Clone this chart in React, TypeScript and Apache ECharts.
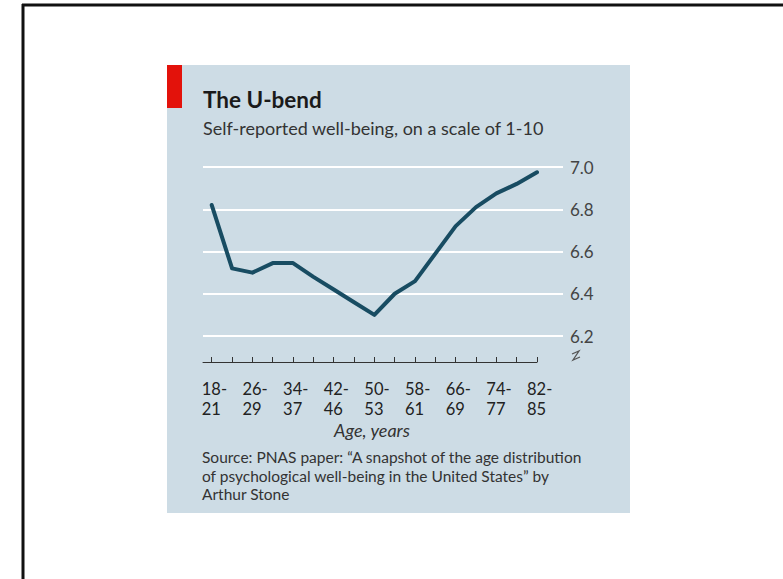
import React, { useEffect, useRef } from "react";
import * as echarts from "echarts";

const ageGroups = [
  "18-21", "22-25", "26-29", "30-33", "34-37", "38-41", "42-46", "47-49",
  "50-53", "54-57", "58-61", "62-65", "66-69", "70-73", "74-77", "78-81", "82-85",
];
const wellBeing = [
  6.82, 6.52, 6.5, 6.545, 6.545, 6.48, 6.42, 6.36, 6.3, 6.4, 6.46, 6.59, 6.72,
  6.81, 6.875, 6.92, 6.975,
];
const yTicks = [6.2, 6.4, 6.6, 6.8, 7.0];
const labelledIdx = [0, 2, 4, 6, 8, 10, 12, 14, 16];

const title = "The U-bend";
const subtitle = "Self-reported well-being, on a scale of 1-10";
const xName = "Age, years";
const source =
  "Source: PNAS paper: \u201CA snapshot of the age distribution\nof psychological well-being in the United States\u201D by\nArthur Stone";

const FONT = "Lato, 'Noto Sans', sans-serif";

export default function App() {
  const ref = useRef<HTMLDivElement>(null);
  useEffect(() => {
    document.body.style.margin = "0";
    const chart = echarts.init(ref.current!, null, { renderer: "svg" });
    const yMin = yTicks[0];
    const yMax = yTicks[yTicks.length - 1];
    const xMin = -0.43;
    const xMax = ageGroups.length - 1;
    const labelRich = {
      a: { width: 20, align: "left", fontSize: 16.5, color: "#222", fontFamily: FONT },
    };
    chart.setOption({
      animation: false,
      backgroundColor: "#ffffff",
      textStyle: { fontFamily: FONT },
      graphic: [
        { type: "rect", shape: { x: 167, y: 65, width: 463, height: 448 }, style: { fill: "#cddce5" }, z: -10 },
        { type: "rect", shape: { x: 167, y: 65, width: 15, height: 43 }, style: { fill: "#e3120b" }, z: -5 },
        { type: "line", shape: { x1: 22, y1: 5, x2: 783, y2: 5 }, style: { stroke: "#111", lineWidth: 3 } },
        { type: "line", shape: { x1: 23, y1: 4, x2: 23, y2: 579 }, style: { stroke: "#111", lineWidth: 3 } },
        {
          type: "text", x: 203, y: 88,
          style: { text: title, fontFamily: FONT, fontWeight: "bold", fontSize: 22.5, fill: "#1a1a1a", verticalAlign: "top" },
        },
        {
          type: "text", x: 203, y: 119,
          style: { text: subtitle, fontFamily: FONT, fontSize: 18, fill: "#333", verticalAlign: "top" },
        },
        {
          type: "text", x: 372, y: 421,
          style: { text: xName, fontFamily: FONT, fontStyle: "italic", fontSize: 18, fill: "#333", align: "center", verticalAlign: "top" },
        },
        {
          type: "text", x: 202, y: 448,
          style: { text: source, fontFamily: FONT, fontSize: 15.5, lineHeight: 18.5, fill: "#333", verticalAlign: "top" },
        },
        {
          type: "polyline",
          shape: { points: [[572, 354], [579, 351], [573, 360], [580, 357]] },
          style: { stroke: "#555", lineWidth: 1.3, fill: null },
        },
      ],
      grid: [
        { left: 203, top: 167, width: 360, height: 169 },
        { left: 203, top: 167, width: 334, height: 169 },
      ],
      xAxis: [
        { gridIndex: 0, type: "value", min: 0, max: 1, show: false },
        {
          gridIndex: 1,
          type: "value",
          position: "bottom",
          min: xMin,
          max: xMax,
          offset: 26,
          splitLine: { show: false },
          axisLine: { show: true, lineStyle: { color: "#333", width: 1 } },
          axisTick: {
            show: true,
            inside: true,
            length: 5,
            customValues: ageGroups.map((_, i) => i),
            lineStyle: { color: "#333", width: 1 },
          },
          axisLabel: {
            show: true,
            customValues: labelledIdx,
            margin: 18,
            align: "center",
            formatter: (v: number) => `{a|${ageGroups[Math.round(v)].split("-")[0]}-}`,
            rich: labelRich,
          },
        },
        {
          gridIndex: 1,
          type: "value",
          position: "bottom",
          min: xMin,
          max: xMax,
          offset: 26,
          splitLine: { show: false },
          axisLine: { show: false },
          axisTick: { show: false },
          axisLabel: {
            show: true,
            customValues: labelledIdx,
            margin: 38,
            align: "center",
            formatter: (v: number) => `{a|${ageGroups[Math.round(v)].split("-")[1]}}`,
            rich: labelRich,
          },
        },
      ],
      yAxis: [
        {
          gridIndex: 0,
          type: "value",
          position: "right",
          min: yMin,
          max: yMax,
          interval: 0.2,
          axisLine: { show: false },
          axisTick: { show: false },
          splitLine: { show: true, lineStyle: { color: "#ffffff", width: 2 } },
          axisLabel: {
            margin: 7,
            fontSize: 17,
            color: "#444",
            fontFamily: FONT,
            formatter: (v: number) => v.toFixed(1),
          },
        },
        { gridIndex: 1, type: "value", min: yMin, max: yMax, show: false },
      ],
      series: [
        {
          type: "line",
          xAxisIndex: 1,
          yAxisIndex: 1,
          data: wellBeing.map((v, i) => [i, v]),
          symbol: "none",
          lineStyle: { color: "#184c62", width: 4, join: "round", cap: "round" },
          z: 5,
        },
      ],
    });
    return () => chart.dispose();
  }, []);
  return <div ref={ref} style={{ width: 783, height: 579 }} />;
}
